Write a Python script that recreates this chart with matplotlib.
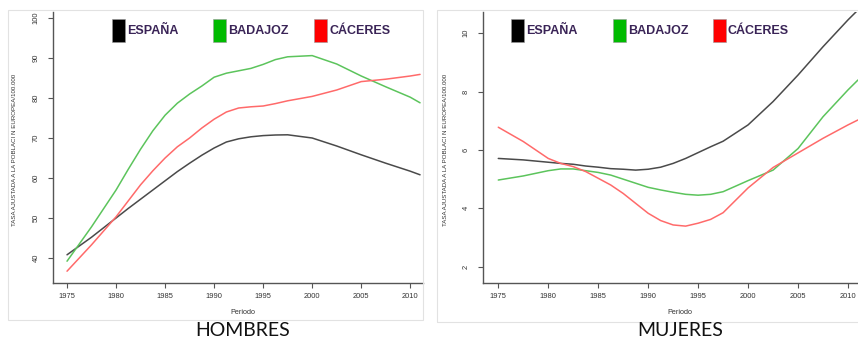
import matplotlib.pyplot as plt
from matplotlib.patches import Rectangle

## 1. Data
YEARS = [1975, 1977.5, 1980, 1981.25, 1982.5, 1983.75, 1985, 1986.25,
         1987.5, 1988.75, 1990, 1991.25, 1992.5, 1993.75, 1995, 1996.25,
         1997.5, 2000, 2002.5, 2005, 2007.5, 2010, 2011]
X_TICKS = [1975, 1980, 1985, 1990, 1995, 2000, 2005, 2010]
SERIES = ["ESPAÑA", "BADAJOZ", "CÁCERES"]

# HOMBRES
hombres_espana = [40.8, 45.2, 50.0, 52.4, 54.7, 57.0, 59.3, 61.6,
                  63.7, 65.7, 67.5, 69.0, 69.8, 70.3, 70.6, 70.75,
                  70.8, 70.0, 68.0, 65.8, 63.7, 61.7, 60.8]
hombres_badajoz = [39.2, 47.8, 57.0, 62.2, 67.2, 71.8, 75.7, 78.7,
                   81.0, 83.0, 85.2, 86.2, 86.8, 87.4, 88.4, 89.6,
                   90.3, 90.6, 88.5, 85.5, 82.8, 80.2, 78.8]
hombres_caceres = [36.7, 43.3, 50.3, 54.3, 58.3, 61.8, 65.0, 67.8,
                   70.0, 72.5, 74.7, 76.5, 77.5, 77.8, 78.0, 78.6,
                   79.3, 80.4, 82.0, 84.1, 84.7, 85.5, 85.9]
hombres_yticks = [40, 50, 60, 70, 80, 90, 100]

# MUJERES
mujeres_espana = [5.71, 5.66, 5.58, 5.54, 5.51, 5.45, 5.41, 5.36,
                  5.34, 5.31, 5.34, 5.41, 5.54, 5.71, 5.91, 6.11,
                  6.3, 6.86, 7.66, 8.57, 9.54, 10.46, 10.8]
mujeres_badajoz = [4.97, 5.11, 5.29, 5.35, 5.35, 5.29, 5.23, 5.14,
                   5.0, 4.86, 4.72, 4.63, 4.55, 4.48, 4.45, 4.48,
                   4.57, 4.95, 5.31, 6.05, 7.14, 8.06, 8.4]
mujeres_caceres = [6.78, 6.29, 5.71, 5.54, 5.43, 5.26, 5.03, 4.8,
                   4.51, 4.17, 3.83, 3.58, 3.43, 3.39, 3.49, 3.62,
                   3.85, 4.7, 5.4, 5.9, 6.4, 6.86, 7.03]
mujeres_yticks = [2, 4, 6, 8, 10]

## 2. Style
W, H = 858, 338
LINE_COLORS = ["#4a4a4a", "#5cc45c", "#ff6a6a"]
BOX_COLORS = ["#000000", "#00bb00", "#ff0000"]
TEXT_PURPLE = "#3a2457"
YLABEL = "TASA AJUSTADA A LA POBLACI N EUROPEA/100.000"


def fx(px):
    return px / W


def fy(py):
    return 1 - py / H


def draw_panel(ax, espana, badajoz, caceres, yticks, xlim, ylim):
    for vals, col in zip([espana, badajoz, caceres], LINE_COLORS):
        ax.plot(YEARS, vals, color=col, lw=1.1, solid_capstyle="round",
                solid_joinstyle="round")
    ax.set_xlim(*xlim)
    ax.set_ylim(*ylim)
    ax.set_xticks(X_TICKS)
    ax.set_yticks(yticks)
    for s in ["top", "right"]:
        ax.spines[s].set_visible(False)
    for s in ["left", "bottom"]:
        ax.spines[s].set_color("#555555")
        ax.spines[s].set_linewidth(1.0)
    ax.tick_params(axis="both", direction="out", length=3.5, width=0.8,
                   color="#555555", labelsize=5.4, labelcolor="#333333")
    ax.tick_params(axis="x", pad=3.5)
    ax.tick_params(axis="y", pad=6)
    for lab in ax.get_yticklabels():
        lab.set_rotation(90)
        lab.set_va("center")
    ax.set_facecolor("none")


fig = plt.figure(figsize=(W / 100, H / 100), dpi=100)
plt.rcParams["font.family"] = ["Liberation Sans", "DejaVu Sans"]

# light frames round each panel
fig.add_artist(Rectangle((fx(8), fy(320)), fx(415), (310) / H,
                         fill=False, ec="#e2e2e2", lw=0.8,
                         transform=fig.transFigure))
fig.add_artist(Rectangle((fx(437), fy(322)), fx(430), (312) / H,
                         fill=False, ec="#e2e2e2", lw=0.8,
                         transform=fig.transFigure))

ax1 = fig.add_axes([fx(53), fy(283), fx(423 - 53), (283 - 12) / H])
draw_panel(ax1, hombres_espana, hombres_badajoz, hombres_caceres,
           hombres_yticks, (1973.57, 2011.3), (33.75, 101.5))

ax2 = fig.add_axes([fx(483), fy(283), fx(861 - 483), (283 - 12) / H])
draw_panel(ax2, mujeres_espana, mujeres_badajoz, mujeres_caceres,
           mujeres_yticks, (1973.47, 2011.3), (1.44, 10.73))

# axis labels
for xc in [15, 445]:
    fig.text(fx(xc), fy(150), YLABEL, rotation=90, ha="center",
             va="center", fontsize=4.4, color="#333333")
for xc in [243, 680]:
    fig.text(fx(xc), fy(313), "Periodo", ha="center", va="center",
             fontsize=5.2, color="#333333")

# panel titles
fig.text(fx(243), fy(330), "HOMBRES", ha="center", va="center",
         fontsize=14, family="Lato", color="#111111")
fig.text(fx(680), fy(330), "MUJERES", ha="center", va="center",
         fontsize=14, family="Lato", color="#111111")

# legends: coloured boxes + bold purple labels
legend_pos = [[112, 213, 314], [511, 613, 713]]
for row in legend_pos:
    for x0, name, col in zip(row, SERIES, BOX_COLORS):
        fig.add_artist(Rectangle((fx(x0), fy(42)), fx(13), 23 / H,
                                 fc=col, ec="#999999", lw=0.4,
                                 transform=fig.transFigure))
        fig.text(fx(x0 + 15), fy(30.5), name, ha="left", va="center",
                 fontsize=9, fontweight="bold", color=TEXT_PURPLE)

fig.savefig("out.png", dpi=100)
